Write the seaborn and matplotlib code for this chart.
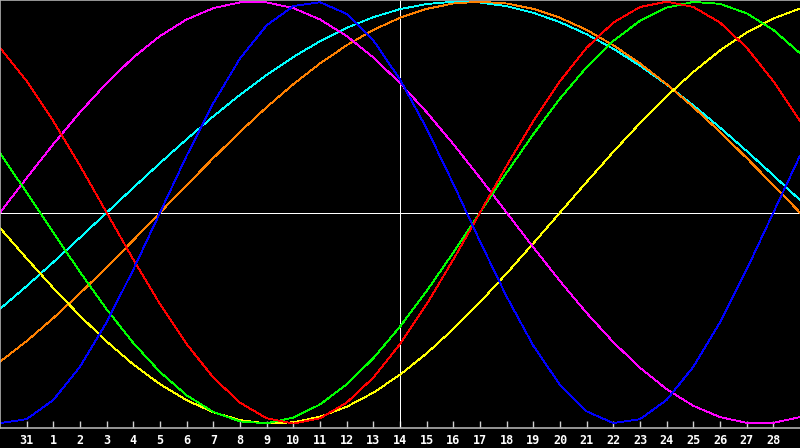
import matplotlib

matplotlib.use("Agg")
import matplotlib.pyplot as plt
import pandas as pd
import seaborn as sns

# day positions: -1 is the left edge, 0 is the "31" tick, 14 is today
days = list(range(-1, 30))
tick_pos = list(range(0, 29))
tick_labels = ["31"] + [str(n) for n in range(1, 29)]
today = 14

# cycle values, one per day
red = [0.7818, 0.6235, 0.4339, 0.2225, 0.0, -0.2225, -0.4339, -0.6235, -0.7818, -0.9010,
       -0.9749, -1.0, -0.9749, -0.9010, -0.7818, -0.6235, -0.4339, -0.2225, 0.0, 0.2225,
       0.4339, 0.6235, 0.7818, 0.9010, 0.9749, 1.0, 0.9749, 0.9010, 0.7818, 0.6235, 0.4339]
green = [0.2817, 0.0951, -0.0951, -0.2817, -0.4582, -0.6182, -0.7557, -0.8660, -0.9450, -0.9898,
         -0.9989, -0.9718, -0.9096, -0.8146, -0.6901, -0.5406, -0.3717, -0.1893, 0.0, 0.1893,
         0.3717, 0.5406, 0.6901, 0.8146, 0.9096, 0.9718, 0.9989, 0.9898, 0.9450, 0.8660, 0.7557]
blue = [-0.9977, -0.9791, -0.8879, -0.7308, -0.5196, -0.2698, 0.0, 0.2698, 0.5196, 0.7308,
        0.8879, 0.9791, 0.9977, 0.9423, 0.8170, 0.6311, 0.3984, 0.1362, -0.1362, -0.3984,
        -0.6311, -0.8170, -0.9423, -0.9977, -0.9791, -0.8879, -0.7308, -0.5196, -0.2698, 0.0, 0.2698]
magenta = [0.0, 0.1646, 0.3247, 0.4759, 0.6142, 0.7357, 0.8372, 0.9158, 0.9694, 0.9966,
           0.9966, 0.9694, 0.9158, 0.8372, 0.7357, 0.6142, 0.4759, 0.3247, 0.1646, 0.0,
           -0.1646, -0.3247, -0.4759, -0.6142, -0.7357, -0.8372, -0.9158, -0.9694, -0.9966, -0.9966, -0.9694]
yellow = [-0.0730, -0.2174, -0.3573, -0.4894, -0.6111, -0.7199, -0.8133, -0.8894, -0.9464, -0.9833,
          -0.9993, -0.9940, -0.9675, -0.9204, -0.8535, -0.7687, -0.6671, -0.5517, -0.4245, -0.2881,
          -0.1456, 0.0, 0.1456, 0.2881, 0.4245, 0.5517, 0.6671, 0.7687, 0.8535, 0.9204, 0.9675]
orange = [-0.7071, -0.6088, -0.5, -0.3827, -0.2588, -0.1305, 0.0, 0.1305, 0.2588, 0.3827,
          0.5, 0.6088, 0.7071, 0.7934, 0.8660, 0.9239, 0.9659, 0.9914, 1.0, 0.9914,
          0.9659, 0.9239, 0.8660, 0.7934, 0.7071, 0.6088, 0.5, 0.3827, 0.2588, 0.1305, 0.0]
cyan = [-0.4566, -0.3482, -0.2349, -0.1183, 0.0, 0.1183, 0.2349, 0.3482, 0.4566, 0.5586,
        0.6529, 0.7380, 0.8126, 0.8758, 0.9267, 0.9647, 0.9890, 0.9996, 0.9961, 0.9786,
        0.9473, 0.9028, 0.8457, 0.7767, 0.6966, 0.6068, 0.5086, 0.4031, 0.2920, 0.1769, 0.0593]

series = {
    "cyan": cyan,
    "orange": orange,
    "yellow": yellow,
    "magenta": magenta,
    "green": green,
    "red": red,
    "blue": blue,
}
palette = {
    "red": "#ff0000",
    "green": "#00ff00",
    "blue": "#0000ff",
    "magenta": "#ff00ff",
    "yellow": "#ffff00",
    "orange": "#ff8000",
    "cyan": "#00ffff",
}

frames = [pd.DataFrame({"day": days, "value": vals, "cycle": name}) for name, vals in series.items()]
df = pd.concat(frames, ignore_index=True)

sns.set_style("dark")
fig = plt.figure(figsize=(8, 4.48), dpi=100, facecolor="black")
ax = fig.add_axes([0, 20 / 448, 1, 428 / 448])
ax.set_facecolor("black")

ax.axhline(0, color="white", linewidth=0.6, antialiased=False, zorder=1)
ax.axvline(today, color="white", linewidth=0.6, antialiased=False, zorder=1)

sns.lineplot(
    data=df,
    x="day",
    y="value",
    hue="cycle",
    palette=palette,
    estimator=None,
    errorbar=None,
    linewidth=0.6,
    antialiased=False,
    legend=False,
    ax=ax,
    zorder=2,
)

ax.set_xlim(-1, 29)
ax.set_ylim(-1.021, 1.008)
ax.set_xlabel("")
ax.set_ylabel("")
ax.grid(False)
ax.set_yticks([])
ax.set_xticks(tick_pos)
ax.set_xticklabels(tick_labels, fontfamily="DejaVu Sans Mono", fontweight="bold", fontsize=8.5, color="white")
ax.tick_params(axis="x", direction="in", length=5, width=1, color="#d0d0d0", pad=4, bottom=True)

for side in ("left", "top", "bottom"):
    ax.spines[side].set_visible(True)
    ax.spines[side].set_color("#b0b0b0")
    ax.spines[side].set_linewidth(1.2)
ax.spines["right"].set_visible(False)

fig.savefig("out.png", dpi=100, facecolor="black")
